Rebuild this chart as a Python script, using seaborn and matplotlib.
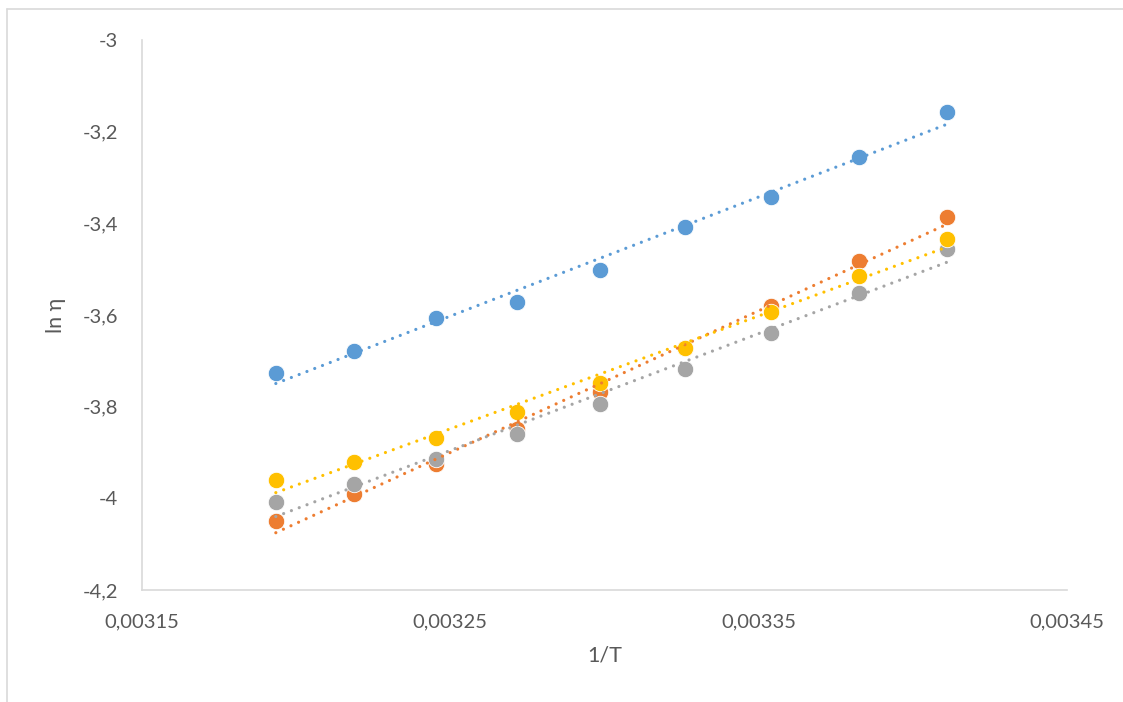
import numpy as np
import pandas as pd
import seaborn as sns
import matplotlib.pyplot as plt
from matplotlib.lines import Line2D
from matplotlib.ticker import FixedLocator, FuncFormatter

# Temperatures 313.15 K down to 293.15 K in 2.5 K steps, plotted as 1/T
inv_T = [0.0031934, 0.0032188, 0.0032452, 0.0032717, 0.0032987,
         0.0033261, 0.0033540, 0.0033824, 0.0034112]

ln_eta_1 = [-3.727, -3.678, -3.607, -3.572, -3.502, -3.407, -3.342, -3.255, -3.158]
ln_eta_2 = [-4.050, -3.991, -3.924, -3.849, -3.769, -3.673, -3.580, -3.482, -3.386]
ln_eta_3 = [-4.008, -3.968, -3.915, -3.860, -3.794, -3.718, -3.639, -3.551, -3.455]
ln_eta_4 = [-3.961, -3.921, -3.868, -3.811, -3.748, -3.672, -3.594, -3.514, -3.434]

series_names = ["1", "2", "3", "4"]
series_colors = ["#5B9BD5", "#ED7D31", "#A5A5A5", "#FFC000"]

x_ticks = [0.00315, 0.00325, 0.00335, 0.00345]
y_ticks = [-4.2, -4.0, -3.8, -3.6, -3.4, -3.2, -3.0]

frames = []
for name, vals in zip(series_names, [ln_eta_1, ln_eta_2, ln_eta_3, ln_eta_4]):
    frames.append(pd.DataFrame({"x": inv_T, "y": vals, "series": name}))
df = pd.concat(frames, ignore_index=True)

sns.set_theme(style="white")
plt.rcParams["font.family"] = ["Lato", "DejaVu Sans"]

fig = plt.figure(figsize=(11.23, 7.02), dpi=100)
ax = fig.add_axes([142 / 1123, 1 - 590 / 702, (1067 - 142) / 1123, (590 - 40) / 702])

for name, color in zip(series_names, series_colors):
    sub = df[df["series"] == name]
    sns.scatterplot(data=sub, x="x", y="y", color=color, s=140,
                    edgecolor="white", linewidth=0.6, ax=ax, zorder=3)

# linear trendlines over each series' data range
for name, color in zip(series_names, series_colors):
    sub = df[df["series"] == name]
    sns.regplot(data=sub, x="x", y="y", scatter=False, ci=None, ax=ax,
                line_kws=dict(color=color, lw=2.3, ls=(0, (0.01, 2.6)),
                              dash_capstyle="round", zorder=4))

ax.set_xlim(0.00315, 0.00345)
ax.set_ylim(-4.2, -3.0)
ax.xaxis.set_major_locator(FixedLocator(x_ticks))
ax.yaxis.set_major_locator(FixedLocator(y_ticks))

ax.xaxis.set_major_formatter(FuncFormatter(lambda v, _: f"{v:.5f}".replace(".", ",")))
ax.yaxis.set_major_formatter(
    FuncFormatter(lambda v, _: f"{v:.1f}".rstrip("0").rstrip(".").replace(".", ",")))

ax.tick_params(axis="both", length=0, labelsize=14.5, labelcolor="#595959")
ax.tick_params(axis="x", pad=17)
ax.tick_params(axis="y", pad=17)

for side in ["top", "right"]:
    ax.spines[side].set_visible(False)
for side in ["left", "bottom"]:
    ax.spines[side].set_color("#D9D9D9")
    ax.spines[side].set_linewidth(1.2)

ax.set_xlabel("1/T", fontsize=15.5, color="#595959", labelpad=11)
ax.set_ylabel("ln η", fontsize=15.5, color="#595959", labelpad=12)

# chart area frame
fig.add_artist(Line2D([7 / 1123, 1.0], [1 - 9 / 702, 1 - 9 / 702],
                      transform=fig.transFigure, color="#D9D9D9", lw=1.2))
fig.add_artist(Line2D([7 / 1123, 7 / 1123], [0.0, 1 - 9 / 702],
                      transform=fig.transFigure, color="#D9D9D9", lw=1.2))

fig.savefig("out.png", dpi=100, facecolor="white")
